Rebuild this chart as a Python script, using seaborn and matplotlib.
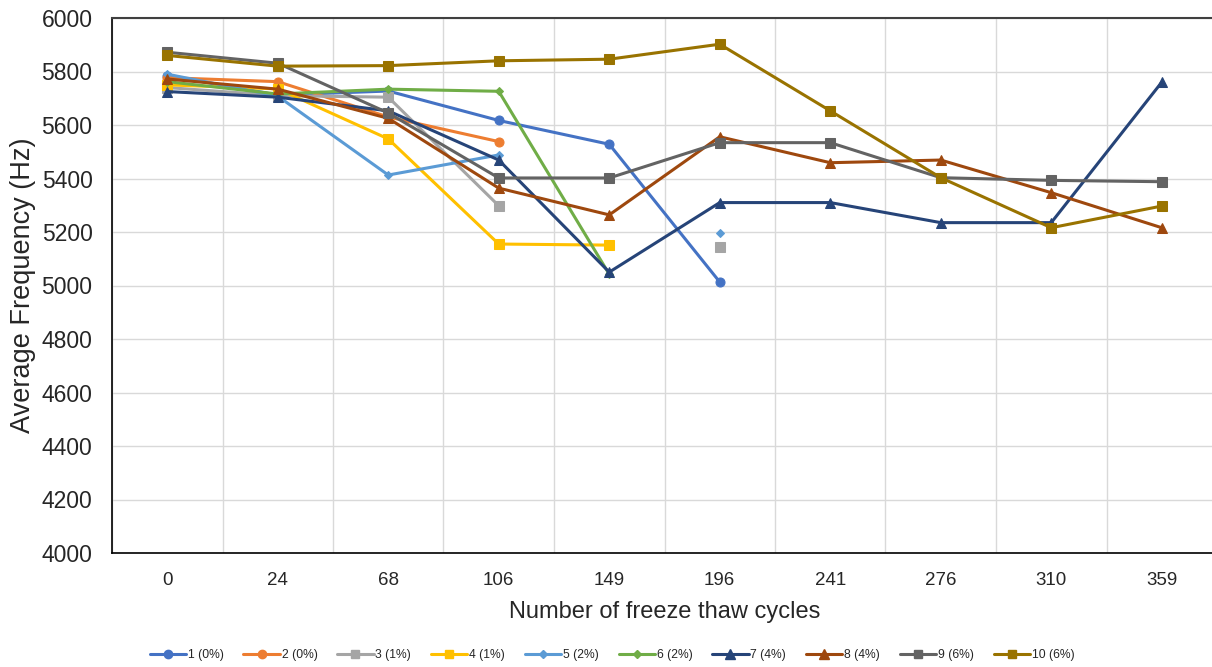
import matplotlib
matplotlib.use("Agg")
import matplotlib.pyplot as plt
import seaborn as sns
import pandas as pd
import numpy as np
from matplotlib.lines import Line2D
from matplotlib.ticker import MultipleLocator, FixedLocator

nan = np.nan

cycles = [0, 24, 68, 106, 149, 196, 241, 276, 310, 359]

names = ["1 (0%)", "2 (0%)", "3 (1%)", "4 (1%)", "5 (2%)",
         "6 (2%)", "7 (4%)", "8 (4%)", "9 (6%)", "10 (6%)"]

s1 = [5785, 5712, 5727, 5617, 5528, 5013, nan, nan, nan, nan]
s2 = [5777, 5762, 5630, 5538, nan, nan, nan, nan, nan, nan]
s3 = [5740, 5710, 5704, 5298, nan, 5145, nan, nan, nan, nan]
s4 = [5750, 5735, 5548, 5155, 5151, nan, nan, nan, nan, nan]
s5 = [5790, 5708, 5413, 5488, nan, 5196, nan, nan, nan, nan]
s6 = [5762, 5716, 5734, 5726, 5042, nan, nan, nan, nan, nan]
s7 = [5725, 5704, 5653, 5469, 5050, 5310, 5310, 5235, 5235, 5760]
s8 = [5772, 5734, 5625, 5364, 5264, 5556, 5459, 5469, 5347, 5216]
s9 = [5872, 5831, 5645, 5402, 5402, 5534, 5534, 5403, 5393, 5388]
s10 = [5860, 5820, 5822, 5840, 5846, 5902, 5653, 5403, 5216, 5297]

series = [s1, s2, s3, s4, s5, s6, s7, s8, s9, s10]

colors = ["#4472C4", "#ED7D31", "#A5A5A5", "#FFC000", "#5B9BD5",
          "#70AD47", "#264478", "#9E480E", "#636363", "#997300"]
markers = ["o", "o", "s", "s", "D", "D", "^", "^", "s", "s"]
msizes = [6.5, 6.5, 6.5, 6.5, 4.5, 4.5, 7, 7, 6.5, 6.5]

sns.set_style("white")
plt.rcParams["font.family"] = ["Liberation Sans", "DejaVu Sans"]

fig = plt.figure(figsize=(12.12, 6.67), dpi=100)
ax = fig.add_axes([112 / 1212, 114 / 667, 1105 / 1212, 535 / 667])

handles = []
for name, vals, c, m, ms in zip(names, series, colors, markers, msizes):
    df = pd.DataFrame({"pos": np.arange(len(cycles)), "freq": vals})
    # split into connected segments so gaps are not bridged
    df["seg"] = df["freq"].isna().cumsum()
    df = df.dropna()
    sns.lineplot(data=df, x="pos", y="freq", units="seg", estimator=None,
                 color=c, marker=m, markersize=ms, markeredgecolor=c,
                 linewidth=2.2, ax=ax, legend=False, zorder=3)
    handles.append(Line2D([], [], color=c, marker=m, markersize=ms - 0.5,
                          markeredgecolor=c, linewidth=2.2, label=name))

ax.set_xlim(-0.5, 9.5)
ax.set_ylim(4000, 6000)

ax.xaxis.set_major_locator(FixedLocator(np.arange(-0.5, 10, 1)))
ax.xaxis.set_minor_locator(FixedLocator(np.arange(0, 10, 1)))
ax.set_xticklabels([])
ax.set_xticks(np.arange(0, 10, 1), labels=[str(c) for c in cycles], minor=True)
ax.tick_params(axis="x", which="major", direction="out", length=6,
               width=1, color="black")
ax.tick_params(axis="x", which="minor", direction="in", length=5,
               width=1, color="black", labelsize=13.5, pad=14)

ax.yaxis.set_major_locator(MultipleLocator(200))
ax.yaxis.set_minor_locator(MultipleLocator(40))
ax.tick_params(axis="y", which="major", direction="out", length=6,
               width=1, color="black", labelsize=16.5, pad=8)
ax.tick_params(axis="y", which="minor", direction="in", length=5,
               width=1, color="black")

ax.grid(True, which="major", axis="both", color="#D9D9D9", linewidth=1)
ax.set_axisbelow(True)

for side in ["left", "bottom"]:
    ax.spines[side].set_color("black")
    ax.spines[side].set_linewidth(1.2)
ax.spines["top"].set_color("#404040")
ax.spines["top"].set_linewidth(1.5)
ax.spines["right"].set_visible(False)

ax.set_xlabel("Number of freeze thaw cycles", fontsize=17, labelpad=8)
ax.set_ylabel("Average Frequency (Hz)", fontsize=19.5, labelpad=4)

fig.legend(handles=handles, loc="center", bbox_to_anchor=(612 / 1212, 1 - 655 / 667),
           ncol=10, frameon=False, handlelength=3.0,
           columnspacing=1.65, handletextpad=0.15,
           prop={"family": ["Liberation Sans Narrow", "Liberation Sans"], "size": 8.7})

fig.savefig("out.png", dpi=100)
